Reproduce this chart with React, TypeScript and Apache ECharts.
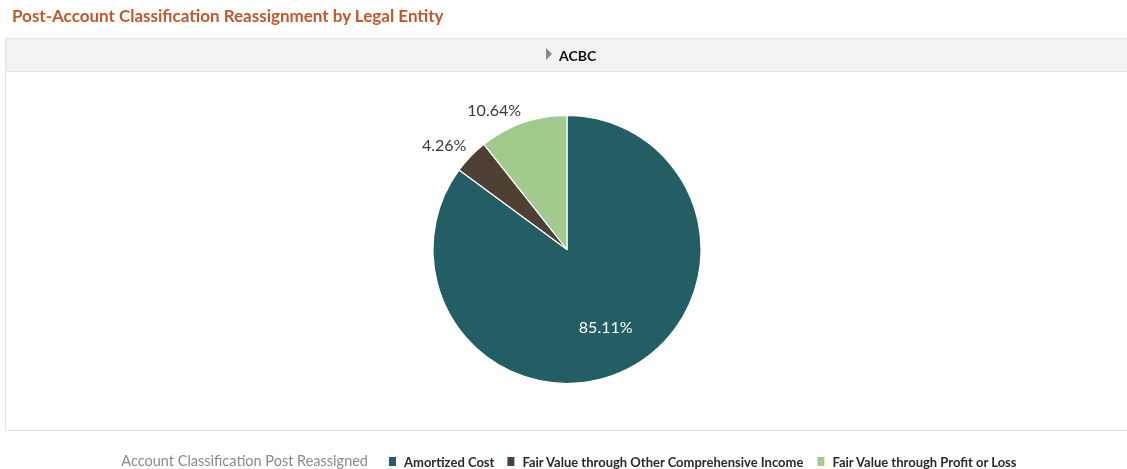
import React, { useEffect, useRef } from "react";
import * as echarts from "echarts";

const categories = [
  "Amortized Cost",
  "Fair Value through Other Comprehensive Income",
  "Fair Value through Profit or Loss",
];
const values = [40, 2, 5];
const colors = ["#245E65", "#4F4036", "#A2CA8C"];
const panelTitle = "ACBC";
const chartTitle = "Post-Account Classification Reassignment by Legal Entity";
const legendTitle = "Account Classification Post Reassigned";

const W = 1127;
const H = 469;
const CX = 567;
const CY = 249.5;
const R = 134;

export default function App() {
  const ref = useRef<HTMLDivElement>(null);
  useEffect(() => {
    if (!ref.current) return;
    const chart = echarts.init(ref.current, null, { renderer: "svg" });
    const total = values.reduce((a, b) => a + b, 0);
    const midAngle = (i: number) => {
      let cum = 0;
      for (let k = 0; k < i; k++) cum += values[k];
      const frac = (cum + values[i] / 2) / total;
      return (90 - frac * 360) * (Math.PI / 180);
    };
    chart.setOption({
      animation: false,
      title: {
        text: chartTitle,
        left: 7,
        top: 2,
        textStyle: {
          fontFamily: "Lato",
          fontSize: 17,
          fontWeight: "bold",
          color: "#C0582B",
        },
      },
      graphic: [
        {
          type: "rect",
          silent: true,
          z: -10,
          shape: { x: 5.5, y: 38.5, width: W + 10, height: 392 },
          style: { fill: "#fff", stroke: "#E3E3E3", lineWidth: 1 },
        },
        {
          type: "rect",
          silent: true,
          z: -9,
          shape: { x: 6, y: 39, width: W, height: 32 },
          style: { fill: "#F3F2F1", stroke: null },
        },
        {
          type: "line",
          silent: true,
          z: -8,
          shape: { x1: 6, y1: 71.5, x2: W, y2: 71.5 },
          style: { stroke: "#E6E6E6", lineWidth: 1 },
        },
        {
          type: "polygon",
          silent: true,
          shape: { points: [[546, 48], [552, 54], [546, 60]] },
          style: { fill: "#8A8A8A" },
        },
        {
          type: "text",
          silent: true,
          x: 559,
          y: 55,
          style: {
            text: panelTitle,
            fontFamily: "Lato",
            fontSize: 14,
            fontWeight: "bold",
            fill: "#111",
            textAlign: "left",
            textVerticalAlign: "middle",
          },
        },
        {
          type: "text",
          silent: true,
          x: 368,
          y: 460.5,
          style: {
            text: legendTitle,
            fontFamily: "Lato",
            fontSize: 14.5,
            fill: "#8A8A8A",
            textAlign: "right",
            textVerticalAlign: "middle",
          },
        },
      ],
      legend: {
        left: 387,
        top: 455,
        itemWidth: 9,
        itemHeight: 11,
        itemGap: 11,
        icon: "rect",
        selectedMode: false,
        textStyle: {
          fontFamily: "Lato",
          fontSize: 13,
          fontWeight: "bold",
          color: "#2A2A2A",
          padding: [0, 0, 0, 2],
        },
        padding: 0,
        data: categories,
      },
      series: [
        {
          type: "pie",
          center: [CX, CY],
          radius: [0, R],
          startAngle: 90,
          clockwise: true,
          avoidLabelOverlap: false,
          itemStyle: { borderColor: "#fff", borderWidth: 1.2 },
          label: {
            show: true,
            position: "inside",
            fontFamily: "Lato",
            fontSize: 16,
            formatter: (p: any) => ((p.value / total) * 100).toFixed(2) + "%",
          },
          labelLine: { show: false },
          labelLayout: (p: any) => {
            const i = p.dataIndex;
            const a = midAngle(i);
            const dx = Math.cos(a);
            const dy = -Math.sin(a);
            if (i === 0) {
              const d = R * 0.64;
              return {
                x: CX + dx * d,
                y: CY + dy * d,
                align: "center",
                verticalAlign: "middle",
              };
            }
            const d = R + 6;
            return {
              x: CX + dx * d,
              y: CY + dy * d,
              align: dx < 0 ? "right" : "left",
              verticalAlign: dy < 0 ? "bottom" : "top",
            };
          },
          emphasis: { disabled: true },
          data: categories.map((name, i) => ({
            name,
            value: values[i],
            itemStyle: { color: colors[i] },
            label: { color: i === 0 ? "#FFFFFF" : "#3A3A3A" },
          })),
        },
      ],
    });
    return () => chart.dispose();
  }, []);
  return (
    <div
      ref={ref}
      style={{ position: "fixed", left: 0, top: 0, width: W, height: H }}
    />
  );
}
